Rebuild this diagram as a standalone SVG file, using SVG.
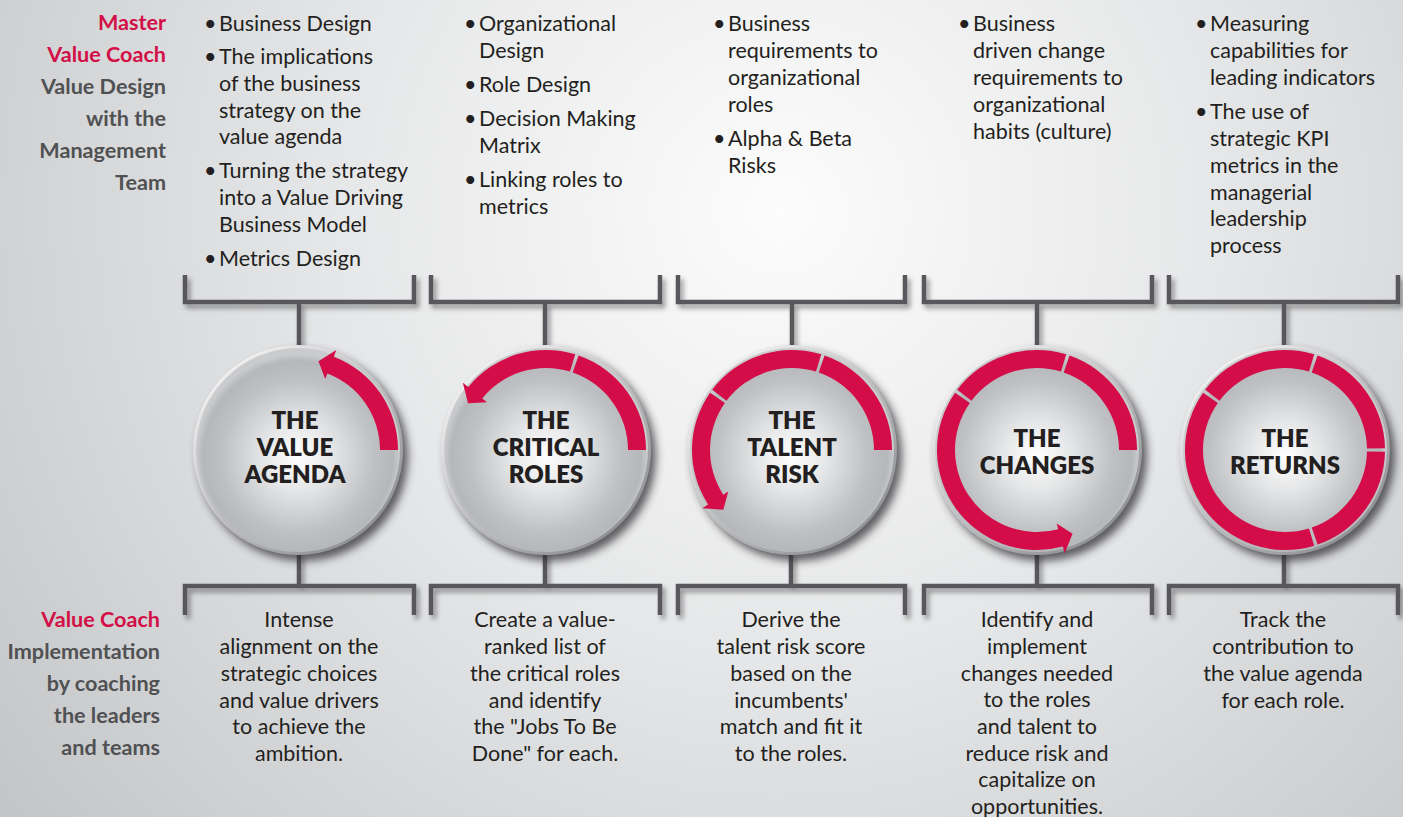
<svg xmlns="http://www.w3.org/2000/svg" xmlns:xlink="http://www.w3.org/1999/xlink" width="1403" height="817" viewBox="0 0 1403 817">
<style>
.t{font-family:Lato,"Open Sans","Liberation Sans",sans-serif;font-size:21.5px;fill:#231f20}
.c{text-anchor:middle}
.lbl{font-family:Lato,"Open Sans","Liberation Sans",sans-serif;font-size:21.6px;font-weight:700;text-anchor:end}
.red{fill:#d20f46}
.gry{fill:#505153}
.h{font-family:Lato,"Open Sans","Liberation Sans",sans-serif;font-size:24px;font-weight:800;text-anchor:middle;fill:#231f20}
.ring{fill:#d40c48}
.br{fill:none;stroke:#58595b;stroke-width:4.5}
</style>
<defs>
<radialGradient id="bg" gradientUnits="userSpaceOnUse" cx="780" cy="210" r="980">
<stop offset="0" stop-color="#fcfcfc"/>
<stop offset="0.45" stop-color="#e6e7e8"/>
<stop offset="1" stop-color="#c4c5c7"/>
</radialGradient>
<radialGradient id="face" cx="0.5" cy="0.53" r="0.5">
<stop offset="0" stop-color="#ffffff"/>
<stop offset="0.35" stop-color="#e4e5e6"/>
<stop offset="0.75" stop-color="#bfc0c3"/>
<stop offset="0.93" stop-color="#b6b7ba"/>
<stop offset="1" stop-color="#cacbcd"/>
</radialGradient>
<linearGradient id="rim" x1="0.15" y1="0.1" x2="0.85" y2="0.9">
<stop offset="0" stop-color="#f2f2f3"/>
<stop offset="1" stop-color="#8e8f92"/>
</linearGradient>
<filter id="blur" x="-30%" y="-30%" width="160%" height="160%"><feGaussianBlur stdDeviation="4"/></filter>
<filter id="lsh" x="-10%" y="-10%" width="130%" height="150%"><feDropShadow dx="3" dy="4" stdDeviation="2.5" flood-color="#000" flood-opacity="0.4"/></filter>
<g id="btn">
<circle cx="5" cy="6" r="105" fill="#2e2e30" opacity="0.75" filter="url(#blur)"/>
<circle r="105" fill="url(#rim)"/>
<circle r="102" fill="url(#face)"/>
</g>
<path id="s1" d="M100,0 A100,100 0 0 0 32.56,-94.55 L26.70,-77.53 A82,82 0 0 1 82,0 Z"/>
<path id="s1b" d="M99.98,-1.75 A100,100 0 0 0 32.56,-94.55 L26.70,-77.53 A82,82 0 0 1 81.99,-1.43 Z"/>
<path id="s2" d="M29.24,-95.63 A100,100 0 0 0 -79.86,-60.18 L-65.49,-49.35 A82,82 0 0 1 23.97,-78.42 Z"/>
<path id="s3" d="M-81.92,-57.36 A100,100 0 0 0 -79.86,60.18 L-65.49,49.35 A82,82 0 0 1 -67.17,-47.03 Z"/>
<path id="s4" d="M-81.92,57.36 A100,100 0 0 0 29.24,95.63 L23.97,78.42 A82,82 0 0 1 -67.17,47.03 Z"/>
<path id="s5" d="M32.56,94.55 A100,100 0 0 0 99.98,1.75 L81.99,1.43 A82,82 0 0 1 26.70,77.53 Z"/>
<path id="a1" d="M100,0 A100,100 0 0 0 35.84,-93.36 L38.35,-99.89 L20.47,-88.67 L27.24,-70.95 L29.39,-76.55 A82,82 0 0 1 82,0 Z"/>
<path id="a2" d="M29.24,-95.63 A100,100 0 0 0 -77.72,-62.93 L-83.16,-67.34 L-78.00,-46.87 L-59.06,-47.83 L-63.73,-51.60 A82,82 0 0 1 23.97,-78.42 Z"/>
<path id="a3" d="M-81.92,-57.36 A100,100 0 0 0 -83.87,54.46 L-89.74,58.28 L-68.68,59.70 L-63.74,41.39 L-68.77,44.66 A82,82 0 0 1 -67.17,-47.03 Z"/>
<path id="a4" d="M-81.92,57.36 A100,100 0 0 0 25.88,96.59 L27.69,103.35 L35.56,83.77 L19.67,73.41 L21.22,79.21 A82,82 0 0 1 -67.17,47.03 Z"/>
</defs>

<rect width="1403" height="817" fill="url(#bg)"/>

<g id="connectors" filter="url(#lsh)">
<path class="br" d="M185,275 V302 H414 V275 M299,302 V346"/>
<path class="br" d="M431,275 V302 H660 V275 M545,302 V346"/>
<path class="br" d="M678,275 V302 H905 V275 M792,302 V346"/>
<path class="br" d="M924,275 V302 H1152 V275 M1037,302 V346"/>
<path class="br" d="M1169,275 V302 H1398 V275 M1284,302 V346"/>
<path class="br" d="M299,552 V586 M185,615 V586 H414 V615"/>
<path class="br" d="M545,552 V586 M431,615 V586 H660 V615"/>
<path class="br" d="M791,552 V586 M678,615 V586 H905 V615"/>
<path class="br" d="M1037,552 V586 M924,615 V586 H1152 V615"/>
<path class="br" d="M1284,552 V586 M1169,615 V586 H1398 V615"/>
</g>

<g id="role-labels">
<text class="lbl red" x="166" y="30">Master</text>
<text class="lbl red" x="166" y="62">Value Coach</text>
<text class="lbl gry" x="166" y="94">Value Design</text>
<text class="lbl gry" x="166" y="126">with the</text>
<text class="lbl gry" x="166" y="158">Management</text>
<text class="lbl gry" x="166" y="190">Team</text>
<text class="lbl red" x="160" y="627">Value Coach</text>
<text class="lbl gry" x="160" y="659">Implementation</text>
<text class="lbl gry" x="160" y="691">by coaching</text>
<text class="lbl gry" x="160" y="723">the leaders</text>
<text class="lbl gry" x="160" y="755">and teams</text>
</g>

<g id="node-value-agenda">
<g transform="translate(298,450)">
<use href="#btn"/>
<use href="#a1" class="ring"/>
<text class="h" x="-3" y="-21">THE</text>
<text class="h" x="-3" y="6">VALUE</text>
<text class="h" x="-3" y="33">AGENDA</text>
</g>
<g class="t">
<text x="204" y="31">•</text><text x="219" y="31">Business Design</text>
<text x="204" y="64">•</text><text x="219" y="64">The implications</text>
<text x="219" y="91">of the business</text>
<text x="219" y="118">strategy on the</text>
<text x="219" y="144">value agenda</text>
<text x="204" y="178">•</text><text x="219" y="178">Turning the strategy</text>
<text x="219" y="205">into a Value Driving</text>
<text x="219" y="232">Business Model</text>
<text x="204" y="266">•</text><text x="219" y="266">Metrics Design</text>
</g>
<g class="t c">
<text x="299" y="627">Intense</text>
<text x="299" y="654">alignment on the</text>
<text x="299" y="681">strategic choices</text>
<text x="299" y="708">and value drivers</text>
<text x="299" y="734">to achieve the</text>
<text x="299" y="761">ambition.</text>
</g>
</g>

<g id="node-critical-roles">
<g transform="translate(546,450)">
<use href="#btn"/>
<use href="#s1" class="ring"/>
<use href="#a2" class="ring"/>
<text class="h" y="-21">THE</text>
<text class="h" y="6">CRITICAL</text>
<text class="h" y="33">ROLES</text>
</g>
<g class="t">
<text x="464" y="31">•</text><text x="479" y="31">Organizational</text>
<text x="479" y="58">Design</text>
<text x="464" y="92">•</text><text x="479" y="92">Role Design</text>
<text x="464" y="126">•</text><text x="479" y="126">Decision Making</text>
<text x="479" y="153">Matrix</text>
<text x="464" y="187">•</text><text x="479" y="187">Linking roles to</text>
<text x="479" y="214">metrics</text>
</g>
<g class="t c">
<text x="545" y="627">Create a value-</text>
<text x="545" y="654">ranked list of</text>
<text x="545" y="681">the critical roles</text>
<text x="545" y="708">and identify</text>
<text x="545" y="734">the "Jobs To Be</text>
<text x="545" y="761">Done" for each.</text>
</g>
</g>

<g id="node-talent-risk">
<g transform="translate(792,450)">
<use href="#btn"/>
<use href="#s1" class="ring"/>
<use href="#s2" class="ring"/>
<use href="#a3" class="ring"/>
<text class="h" y="-21">THE</text>
<text class="h" y="6">TALENT</text>
<text class="h" y="33">RISK</text>
</g>
<g class="t">
<text x="713" y="31">•</text><text x="728" y="31">Business</text>
<text x="728" y="58">requirements to</text>
<text x="728" y="85">organizational</text>
<text x="728" y="112">roles</text>
<text x="713" y="146">•</text><text x="728" y="146">Alpha &amp; Beta</text>
<text x="728" y="173">Risks</text>
</g>
<g class="t c">
<text x="791" y="627">Derive the</text>
<text x="791" y="654">talent risk score</text>
<text x="791" y="681">based on the</text>
<text x="791" y="708">incumbents'</text>
<text x="791" y="734">match and fit it</text>
<text x="791" y="761">to the roles.</text>
</g>
</g>

<g id="node-changes">
<g transform="translate(1037,450)">
<use href="#btn"/>
<use href="#s1" class="ring"/>
<use href="#s2" class="ring"/>
<use href="#s3" class="ring"/>
<use href="#a4" class="ring"/>
<text class="h" y="-3">THE</text>
<text class="h" y="24">CHANGES</text>
</g>
<g class="t">
<text x="958" y="31">•</text><text x="973" y="31">Business</text>
<text x="973" y="58">driven change</text>
<text x="973" y="85">requirements to</text>
<text x="973" y="112">organizational</text>
<text x="973" y="139">habits (culture)</text>
</g>
<g class="t c">
<text x="1037" y="627">Identify and</text>
<text x="1037" y="654">implement</text>
<text x="1037" y="681">changes needed</text>
<text x="1037" y="707">to the roles</text>
<text x="1037" y="734">and talent to</text>
<text x="1037" y="761">reduce risk and</text>
<text x="1037" y="787">capitalize on</text>
<text x="1037" y="814">opportunities.</text>
</g>
</g>

<g id="node-returns">
<g transform="translate(1285,450)">
<use href="#btn"/>
<use href="#s1b" class="ring"/>
<use href="#s2" class="ring"/>
<use href="#s3" class="ring"/>
<use href="#s4" class="ring"/>
<use href="#s5" class="ring"/>
<text class="h" y="-3">THE</text>
<text class="h" y="24">RETURNS</text>
</g>
<g class="t">
<text x="1195" y="31">•</text><text x="1210" y="31">Measuring</text>
<text x="1210" y="58">capabilities for</text>
<text x="1210" y="85">leading indicators</text>
<text x="1195" y="119">•</text><text x="1210" y="119">The use of</text>
<text x="1210" y="146">strategic KPI</text>
<text x="1210" y="173">metrics in the</text>
<text x="1210" y="200">managerial</text>
<text x="1210" y="226">leadership</text>
<text x="1210" y="253">process</text>
</g>
<g class="t c">
<text x="1283" y="627">Track the</text>
<text x="1283" y="654">contribution to</text>
<text x="1283" y="681">the value agenda</text>
<text x="1283" y="708">for each role.</text>
</g>
</g>
</svg>
